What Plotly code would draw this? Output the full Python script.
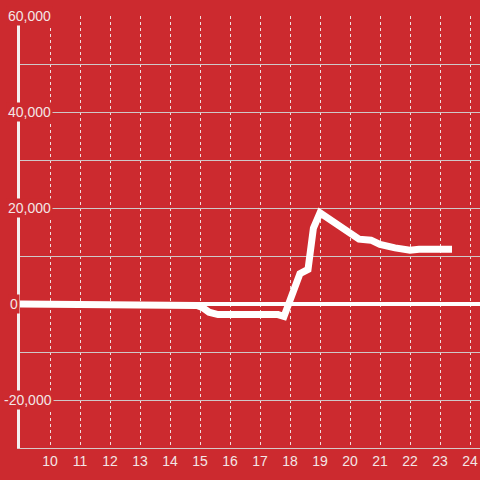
import plotly.graph_objects as go

x_vals = [9, 14.6, 14.9, 15.1, 15.3, 15.6, 17.6, 17.8, 18.33, 18.6, 18.78, 19.0, 19.5, 20.0, 20.3, 20.7, 21.0, 21.5, 22.0, 22.3, 23.4]
y_vals = [0, 0, -300, -800, -1700, -2200, -2200, -2600, 6300, 7200, 15800, 19000, 16800, 14600, 13500, 13300, 12400, 11700, 11200, 11400, 11400]

x_ticks = list(range(10, 25))
y_label_vals = [60000, 40000, 20000, 0, -20000]
y_label_text = ["60,000", "40,000", "20,000", "0", "-20,000"]
y_label_left = [6, 6, 6, 8, 2]

RED = "#cc2a2f"
TXT = "#f3e6e6"

fig = go.Figure()
fig.add_trace(go.Scatter(x=x_vals, y=y_vals, mode="lines",
                         line=dict(color="white", width=7), hoverinfo="skip"))

for v, t, lx in zip(y_label_vals, y_label_text, y_label_left):
    fig.add_annotation(x=0, xref="paper", xshift=lx - 20,
                       y=v, yref="y", text=t, showarrow=False, xanchor="left",
                       yanchor="middle", bgcolor=RED, borderpad=1,
                       font=dict(family="Liberation Sans, Arial", size=14, color=TXT))

fig.update_layout(
    width=480, height=480,
    margin=dict(l=20, r=0, t=16, b=32, autoexpand=False),
    paper_bgcolor=RED, plot_bgcolor=RED,
    showlegend=False,
    font=dict(family="Liberation Sans, Arial", size=14, color=TXT),
    xaxis=dict(range=[9, 24.333], tickvals=x_ticks, showgrid=True, automargin=False,
               gridcolor="#f0dede", griddash="dot", gridwidth=1,
               showline=True, linecolor="#d8c8c8", linewidth=1,
               zeroline=False, ticks="", tickfont=dict(size=14, color=TXT)),
    yaxis=dict(range=[-30000, 60000], dtick=10000, showgrid=True, automargin=False,
               gridcolor="#cfc8c8", gridwidth=1, showticklabels=False,
               zeroline=True, zerolinecolor="white", zerolinewidth=4,
               showline=True, linecolor="#f4f0f0", linewidth=3, ticks=""),
)

fig.write_html("out.html", config={"displayModeBar": False},
               post_script="document.body.style.margin='0';document.body.style.padding='0';document.body.style.overflow='hidden';document.body.style.background='#cc2a2f';")
